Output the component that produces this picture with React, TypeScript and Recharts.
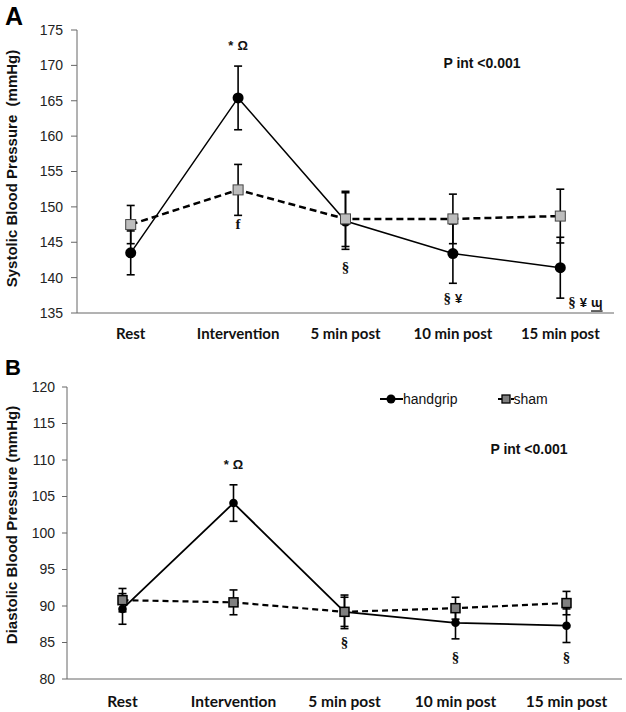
import { LineChart, Line, XAxis, YAxis, ErrorBar, ReferenceDot, Legend } from "recharts";

const categories = ["Rest", "Intervention", "5 min post", "10 min post", "15 min post"];

// panel A, systolic
const sbpHandgrip = [143.5, 165.4, 148.0, 143.4, 141.4];
const sbpHandgripErr = [3.1, 4.5, 4.0, 4.2, 4.3];
const sbpSham = [147.5, 152.4, 148.3, 148.3, 148.7];
const sbpShamErr = [2.7, 3.6, 3.9, 3.5, 3.8];
const sbpTicks = [135, 140, 145, 150, 155, 160, 165, 170, 175];
const sbpNoteCats = ["Intervention", "Intervention", "5 min post", "10 min post", "15 min post"];
const sbpNoteTexts = ["* Ω", "f", "§", "§ ¥", "§ ¥ ɰ"];
const sbpNoteValues = [172.9, 147.6, 141.5, 137.1, 136.5];

// panel B, diastolic
const dbpHandgrip = [89.6, 104.1, 89.2, 87.7, 87.3];
const dbpHandgripErr = [2.1, 2.5, 2.0, 2.2, 2.3];
const dbpSham = [90.8, 90.5, 89.2, 89.7, 90.4];
const dbpShamErr = [1.6, 1.7, 2.3, 1.5, 1.6];
const dbpTicks = [80, 85, 90, 95, 100, 105, 110, 115, 120];
const dbpNoteCats = ["Intervention", "5 min post", "10 min post", "15 min post"];
const dbpNoteTexts = ["* Ω", "§", "§", "§"];
const dbpNoteValues = [109.5, 85.1, 83.0, 83.0];

const sbpData = categories.map((name, i) => ({
  name,
  handgrip: sbpHandgrip[i],
  handgripErr: sbpHandgripErr[i],
  sham: sbpSham[i],
  shamErr: sbpShamErr[i],
}));

const dbpData = categories.map((name, i) => ({
  name,
  handgrip: dbpHandgrip[i],
  handgripErr: dbpHandgripErr[i],
  sham: dbpSham[i],
  shamErr: dbpShamErr[i],
}));

const SANS = "'Liberation Sans', Arial, sans-serif";
const SERIF = "'Liberation Serif', 'Times New Roman', serif";
const AXIS = "#666";

function makeXTick(offset: number, size: number) {
  return (props: any) => (
    <text
      x={props.x}
      y={props.y + offset}
      textAnchor="middle"
      fontFamily="Lato, sans-serif"
      fontWeight={700}
      fontSize={size}
      fill="#111"
    >
      {props.payload.value}
    </text>
  );
}

function makeTitle(text: string, shift: number) {
  return (props: any) => {
    const vb = props.viewBox || { y: 0, height: 0 };
    const cy = vb.y + vb.height / 2 + shift;
    return (
      <text
        transform={`translate(11,${cy}) rotate(-90)`}
        textAnchor="middle"
        dominantBaseline="central"
        fontFamily={SANS}
        fontWeight={700}
        fontSize={15}
        fill="#111"
        style={{ whiteSpace: "pre" }}
      >
        {text}
      </text>
    );
  };
}

// symbols: § and f are set in a serif face, the rest in bold sans
function makeNote(text: string) {
  return (props: any) => {
    const vb = props.viewBox || { x: 0, y: 0, width: 0, height: 0 };
    const cx = vb.x + vb.width / 2;
    const cy = vb.y + vb.height / 2;
    const parts = text.split(" ");
    const start = parts.length > 2;
    return (
      <text
        x={start ? cx + 8 : cx}
        y={cy}
        textAnchor={start ? "start" : "middle"}
        dominantBaseline="central"
        fill="#111"
      >
        {parts.map((p, i) => {
          const serif = p === "§" || p === "f";
          return (
            <tspan
              key={i}
              dx={i > 0 ? 4 : 0}
              fontFamily={serif ? SERIF : SANS}
              fontWeight={700}
              fontSize={serif ? 15 : 13}
              style={p === "ɰ" ? { textDecoration: "underline wavy #e04a4a" } : undefined}
            >
              {p}
            </tspan>
          );
        })}
      </text>
    );
  };
}

function makeSquare(size: number, fill: string, stroke: string, sw: number) {
  return (props: any) => (
    <rect
      key={`sq-${props.index}`}
      x={props.cx - size / 2}
      y={props.cy - size / 2}
      width={size}
      height={size}
      fill={fill}
      stroke={stroke}
      strokeWidth={sw}
    />
  );
}

function LegendB(props: any) {
  const items = props.payload || [];
  return (
    <div style={{ display: "flex", alignItems: "center", fontFamily: SANS, fontSize: 14, color: "#111" }}>
      {items.map((item: any) =>
        item.dataKey === "handgrip" ? (
          <div key="hg" style={{ display: "flex", alignItems: "center", marginRight: 40 }}>
            <svg width={23} height={12}>
              <line x1={0} x2={23} y1={6} y2={6} stroke="#000" strokeWidth={2} />
              <circle cx={11} cy={6} r={4.5} fill="#000" />
            </svg>
            <span>{item.value}</span>
          </div>
        ) : (
          <div key="sh" style={{ display: "flex", alignItems: "center" }}>
            <svg width={16} height={12}>
              <line x1={0} x2={5} y1={6} y2={6} stroke="#000" strokeWidth={2} />
              <rect x={4} y={2} width={8} height={8} fill="#808080" stroke="#000" strokeWidth={1.3} />
              <line x1={13} x2={16} y1={6} y2={6} stroke="#000" strokeWidth={2} />
            </svg>
            <span>{item.value}</span>
          </div>
        )
      )}
    </div>
  );
}

export default function App() {
  return (
    <div style={{ position: "absolute", left: 0, top: 0, width: 626, height: 712, background: "#fff" }}>
      <div style={{ position: "absolute", left: 0, top: 0 }}>
        <LineChart width={626} height={360} data={sbpData} margin={{ top: 30, right: 12, bottom: 17, left: 27 }}>
          <XAxis
            dataKey="name"
            height={30}
            stroke={AXIS}
            tickLine={false}
            tickSize={0}
            tickMargin={0}
            interval={0}
            padding={{ left: 53.7, right: 53.7 }}
            tick={makeXTick(26, 15)}
          />
          <YAxis
            width={50}
            domain={[135, 175]}
            ticks={sbpTicks}
            stroke={AXIS}
            tickSize={6}
            tickMargin={8}
            tick={{ fontFamily: SANS, fontSize: 14, fill: "#222" }}
            label={{ content: makeTitle("Systolic Blood Pressure  (mmHg)", -3) }}
          />
          <Line
            type="linear"
            dataKey="handgrip"
            name="handgrip"
            stroke="#000"
            strokeWidth={1.5}
            dot={{ r: 5.5, fill: "#000", stroke: "#000", strokeWidth: 0 }}
            activeDot={false}
            isAnimationActive={false}
          >
            <ErrorBar dataKey="handgripErr" width={4} stroke="#000" strokeWidth={1.6} direction="y" />
          </Line>
          <Line
            type="linear"
            dataKey="sham"
            name="sham"
            stroke="#000"
            strokeWidth={2.5}
            strokeDasharray="7 4"
            dot={makeSquare(10, "#bdbdbd", "#444", 1)}
            activeDot={false}
            isAnimationActive={false}
          >
            <ErrorBar dataKey="shamErr" width={4} stroke="#000" strokeWidth={1.6} direction="y" />
          </Line>
          {sbpNoteTexts.map((t, i) => (
            <ReferenceDot
              key={`a-${i}`}
              x={sbpNoteCats[i]}
              y={sbpNoteValues[i]}
              r={1}
              fill="none"
              stroke="none"
              label={{ content: makeNote(t) }}
            />
          ))}
        </LineChart>
      </div>

      <div style={{ position: "absolute", left: 0, top: 355 }}>
        <LineChart width={626} height={357} data={dbpData} margin={{ top: 32, right: 4, bottom: 7, left: 17 }}>
          <XAxis
            dataKey="name"
            height={26}
            stroke={AXIS}
            tickLine={false}
            tickSize={0}
            tickMargin={0}
            interval={0}
            padding={{ left: 55.5, right: 55.5 }}
            tick={makeXTick(28, 15.5)}
          />
          <YAxis
            width={50}
            domain={[80, 120]}
            ticks={dbpTicks}
            stroke={AXIS}
            tickSize={5}
            tickMargin={7}
            tick={{ fontFamily: SANS, fontSize: 14, fill: "#222" }}
            label={{ content: makeTitle("Diastolic Blood Pressure (mmHg)", -8) }}
          />
          <Legend
            verticalAlign="middle"
            layout="horizontal"
            content={LegendB}
            wrapperStyle={{ left: 380, top: 36, width: "auto", height: "auto" }}
          />
          <Line
            type="linear"
            dataKey="handgrip"
            name="handgrip"
            stroke="#000"
            strokeWidth={1.8}
            dot={{ r: 4.3, fill: "#000", stroke: "#000", strokeWidth: 0 }}
            activeDot={false}
            isAnimationActive={false}
          >
            <ErrorBar dataKey="handgripErr" width={4} stroke="#000" strokeWidth={1.6} direction="y" />
          </Line>
          <Line
            type="linear"
            dataKey="sham"
            name="sham"
            stroke="#000"
            strokeWidth={2.2}
            strokeDasharray="6 4"
            dot={makeSquare(9, "#808080", "#000", 1.5)}
            activeDot={false}
            isAnimationActive={false}
          >
            <ErrorBar dataKey="shamErr" width={4} stroke="#000" strokeWidth={1.6} direction="y" />
          </Line>
          {dbpNoteTexts.map((t, i) => (
            <ReferenceDot
              key={`b-${i}`}
              x={dbpNoteCats[i]}
              y={dbpNoteValues[i]}
              r={1}
              fill="none"
              stroke="none"
              label={{ content: makeNote(t) }}
            />
          ))}
        </LineChart>
      </div>

      <svg
        width={626}
        height={712}
        style={{ position: "absolute", left: 0, top: 0, pointerEvents: "none" }}
      >
        <text x={5} y={25} fontFamily={SANS} fontWeight={700} fontSize={25} fill="#000">A</text>
        <text x={5} y={375} fontFamily={SANS} fontWeight={700} fontSize={22} fill="#000">B</text>
        <text x={482} y={63} textAnchor="middle" dominantBaseline="central" fontFamily={SANS} fontWeight={700} fontSize={14} fill="#111">
          P int &lt;0.001
        </text>
        <text x={529} y={449} textAnchor="middle" dominantBaseline="central" fontFamily={SANS} fontWeight={700} fontSize={14} fill="#111">
          P int &lt;0.001
        </text>
      </svg>
    </div>
  );
}
